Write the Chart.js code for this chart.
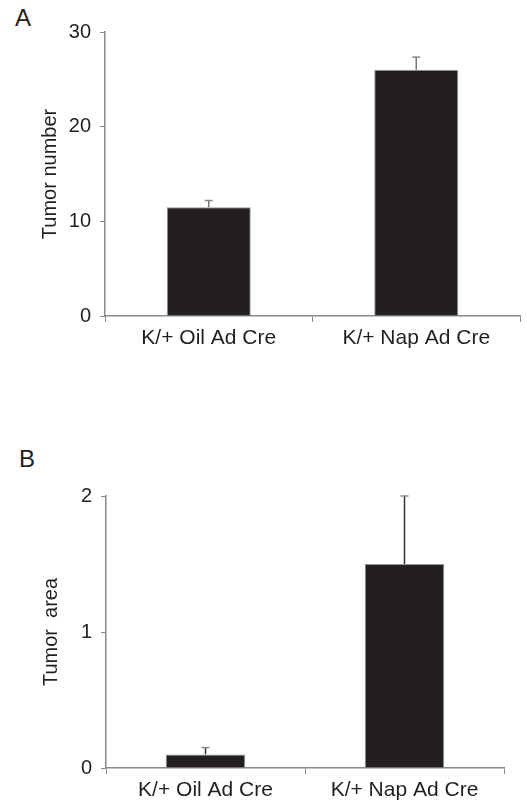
<!DOCTYPE html>
<html>
<head>
<meta charset="utf-8">
<script src="https://cdn.jsdelivr.net/npm/chart.js@4"></script>
<style>
  body { margin: 0; background: #fff; width: 527px; height: 805px; position: relative; overflow: hidden; }
  .panel { position: absolute; left: 0; width: 527px; }
  .letter { position: absolute; font: 24px "Liberation Sans", Arial, sans-serif; line-height: 24px; color: #231f20; }
</style>
</head>
<body>
<div class="letter" style="top:6px; left:15px">A</div>
<div class="panel" style="top:0; height:360px"><canvas id="chartA"></canvas></div>
<div class="letter" style="top:447px; left:19px">B</div>
<div class="panel" style="top:470px; height:335px"><canvas id="chartB"></canvas></div>
<script>
const categories = ["K/+ Oil Ad Cre", "K/+ Nap Ad Cre"];
const tumorNumber = [11.5, 26.0];
const tumorNumberErr = [0.7, 1.35];
const tumorArea = [0.1, 1.5];
const tumorAreaErr = [0.05, 0.5];

const textColor = "#231f20";
const axisColor = "#8a8a8a";
const fontFamily = '"Liberation Sans", Arial, sans-serif';

// draws upward-only error bars on top of each bar
const errorBars = {
  id: "errorBars",
  afterDatasetsDraw(chart, args, opts) {
    const ctx = chart.ctx;
    const yScale = chart.scales.y;
    const meta = chart.getDatasetMeta(0);
    const values = chart.data.datasets[0].data;
    ctx.save();
    meta.data.forEach((bar, i) => {
      const yTop = yScale.getPixelForValue(values[i] + opts.errors[i]);
      ctx.strokeStyle = opts.lineColor;
      ctx.lineWidth = 1.5;
      ctx.beginPath();
      ctx.moveTo(bar.x, bar.y);
      ctx.lineTo(bar.x, yTop);
      ctx.stroke();
      ctx.strokeStyle = axisColor;
      ctx.beginPath();
      ctx.moveTo(bar.x - 4, yTop);
      ctx.lineTo(bar.x + 4, yTop);
      ctx.stroke();
    });
    ctx.restore();
  }
};

function makeChart(id, values, errors, cfg) {
  const ctx = document.getElementById(id).getContext("2d");
  return new Chart(ctx, {
    type: "bar",
    data: {
      labels: categories,
      datasets: [
        {
          data: values,
          backgroundColor: textColor,
          borderColor: "#999",
          borderWidth: 1,
          categoryPercentage: 1,
          barPercentage: cfg.barPct,
        },
      ],
    },
    options: {
      responsive: true,
      maintainAspectRatio: false,
      animation: false,
      layout: { padding: { top: cfg.top, right: cfg.right, left: 0, bottom: 0 } },
      plugins: {
        legend: { display: false },
        tooltip: { enabled: false },
        errorBars: { errors: errors, lineColor: cfg.errColor },
      },
      scales: {
        x: {
          afterFit: (scale) => { scale.height = cfg.xHeight; },
          grid: { drawOnChartArea: false, tickLength: 6, color: axisColor, offset: true },
          border: { color: axisColor, width: 1.5 },
          ticks: { color: textColor, font: { family: fontFamily, size: 21 }, padding: 4 },
        },
        y: {
          min: 0,
          max: cfg.max,
          afterFit: (scale) => { scale.width = cfg.yWidth; },
          grid: { drawOnChartArea: false, tickLength: 5, color: axisColor },
          border: { color: axisColor, width: 1.5 },
          ticks: { stepSize: cfg.step, color: textColor, font: { family: fontFamily, size: 20 }, padding: 9 },
          title: {
            display: true,
            text: cfg.title,
            color: textColor,
            font: { family: fontFamily, size: 20 },
            padding: { top: cfg.titlePad, bottom: 0 },
          },
        },
      },
    },
    plugins: [errorBars],
  });
}

makeChart("chartA", tumorNumber, tumorNumberErr, {
  barPct: 0.405, top: 32, right: 7, xHeight: 44, yWidth: 105, max: 30, step: 10,
  title: "Tumor number", titlePad: 38, errColor: "#777",
});

makeChart("chartB", tumorArea, tumorAreaErr, {
  barPct: 0.40, top: 26, right: 23, xHeight: 37, yWidth: 106, max: 2, step: 1,
  title: "Tumor  area", titlePad: 39, errColor: "#333",
});
</script>
</body>
</html>
